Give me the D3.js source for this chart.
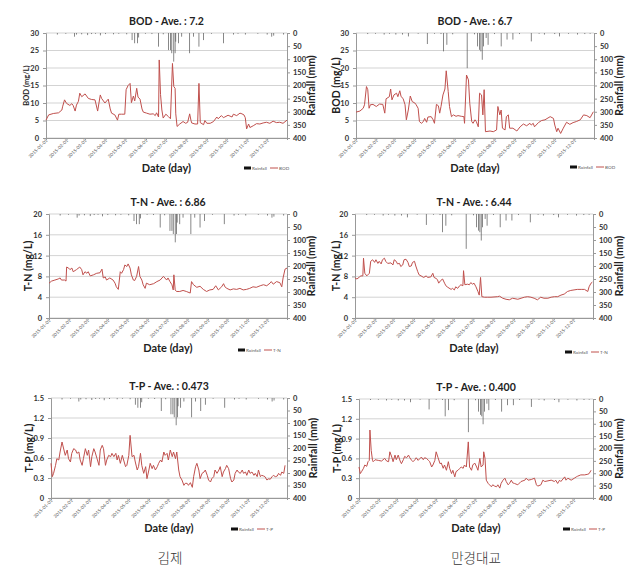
<!DOCTYPE html>
<html><head><meta charset="utf-8">
<script src="https://cdn.jsdelivr.net/npm/d3@7"></script>
<style>body{margin:0;background:#fff}svg{display:block}</style>
</head><body>
<svg id="c" width="638" height="572"></svg>
<script>
// ---- tick labels ----
const monthLabels = ["2015-01-01","2015-02-01","2015-03-01","2015-04-01","2015-05-01","2015-06-01","2015-07-01","2015-08-01","2015-09-01","2015-10-01","2015-11-01","2015-12-01"];
const monthDays = [0,31,59,90,120,151,181,212,243,273,304,334];
const rainTicks = [0,50,100,150,200,250,300,350,400];
const bodTicks = [0,5,10,15,20,25,30];
const tnTicks = [0,4,8,12,16,20];
const tpTicks = [0,0.3,0.6,0.9,1.2,1.5];
const stations = ["김제","만경대교"];

// ---- rainfall [dayOfYear, mm] ----
const rainKimje = [[17,6],[30,3],[43,14],[46,6],[54,5],[63,8],[69,4],[75,3],[82,9],[90,4],[102,5],[110,3],[122,5],[130,27],[134,39],[138,39],[140,17],[150,3],[160,4],[170,52],[177,5],[185,65],[188,65],[190,77],[193,109],[195,77],[196,33],[200,39],[205,14],[217,77],[223,14],[231,52],[238,27],[250,3],[268,39],[283,6],[290,3],[301,6],[320,3],[334,6],[341,14],[344,10],[359,6]];
const rainMangyeong = [[18,4],[30,3],[43,6],[51,3],[61,6],[71,6],[80,13],[95,3],[109,42],[120,3],[130,4],[134,70],[139,45],[148,5],[170,134],[181,5],[186,51],[189,64],[191,70],[193,102],[195,51],[199,19],[202,45],[212,4],[222,51],[231,25],[240,25],[250,4],[268,32],[280,3],[288,6],[304,4],[311,13],[325,3],[339,6],[350,4],[358,3]];

// ---- water quality [dayOfYear, value] ----
const bodKimje = [[0,5.1],[4,6.6],[11,7.0],[19,7.2],[24,8.0],[25,8.9],[28,10.9],[31,9.9],[36,9.3],[39,9.8],[41,9.3],[44,7.7],[46,9.4],[49,10.5],[51,12.8],[54,11.8],[59,12.6],[64,11.3],[69,11.0],[74,10.9],[78,7.7],[82,12.3],[84,11.3],[89,10.0],[94,11.1],[97,8.3],[99,7.1],[104,6.6],[108,5.1],[110,6.8],[114,6.8],[119,6.8],[121,13.8],[124,15.0],[127,15.6],[129,10.1],[132,12.0],[134,10.6],[137,14.2],[139,11.7],[142,11.1],[145,8.3],[147,7.4],[152,7.1],[157,6.8],[162,6.9],[165,6.4],[167,7.2],[170,6.0],[171,22.3],[173,12.4],[175,8.0],[177,5.7],[181,6.8],[185,6.1],[188,5.5],[191,21.3],[193,14.7],[195,14.2],[196,6.9],[198,3.3],[202,4.0],[207,4.7],[211,4.2],[214,4.5],[217,6.9],[219,5.0],[220,4.3],[225,4.0],[229,4.0],[231,15.6],[233,4.4],[238,3.8],[240,5.0],[243,4.2],[248,4.2],[253,4.7],[258,6.0],[260,5.5],[265,6.4],[268,5.8],[270,6.0],[275,6.5],[281,6.0],[283,6.8],[288,6.4],[293,7.1],[296,6.9],[299,6.6],[301,5.8],[303,2.6],[306,4.0],[308,3.0],[313,3.5],[318,4.1],[323,4.0],[328,4.3],[333,4.5],[338,4.2],[343,4.8],[348,4.4],[353,4.5],[358,4.2],[364,5.1]];
const bodMangyeong = [[0,7.4],[6,7.7],[11,8.5],[13,9.5],[16,14.7],[18,13.8],[20,8.5],[22,9.5],[26,9.6],[31,9.0],[36,9.7],[41,9.6],[44,7.1],[46,11.2],[51,11.8],[53,14.0],[55,10.9],[58,12.3],[62,12.8],[64,11.8],[67,13.5],[69,11.8],[72,11.3],[75,9.5],[77,5.2],[80,8.0],[83,12.0],[86,10.4],[90,10.0],[92,9.5],[95,8.5],[97,4.7],[100,4.2],[103,4.7],[105,5.6],[108,4.5],[110,6.0],[115,6.1],[118,5.2],[120,4.2],[123,9.6],[126,9.2],[128,7.1],[130,9.0],[133,12.3],[136,14.0],[138,19.2],[141,13.3],[143,9.0],[146,6.1],[149,6.6],[153,6.2],[156,6.4],[161,6.2],[165,6.1],[166,4.2],[169,18.0],[172,16.6],[174,9.9],[177,4.7],[179,4.2],[182,5.2],[184,4.7],[187,3.2],[189,12.8],[192,12.3],[194,6.6],[196,13.8],[198,1.8],[205,2.0],[210,1.8],[215,2.3],[217,9.0],[220,6.6],[222,8.0],[224,2.8],[228,2.3],[230,6.1],[233,6.6],[235,2.8],[240,2.8],[246,2.0],[251,3.2],[256,4.0],[261,3.5],[266,4.2],[268,3.7],[271,4.2],[273,3.2],[279,4.4],[284,5.0],[289,5.2],[297,6.1],[302,5.6],[304,3.7],[307,1.8],[309,2.8],[313,1.3],[317,2.8],[322,4.5],[327,3.9],[332,4.4],[337,4.7],[343,5.2],[348,6.6],[353,6.4],[358,5.8],[363,7.5]];
const tnKimje = [[0,6.7],[4,7.1],[9,7.3],[14,7.5],[17,7.7],[19,7.3],[24,7.3],[26,7.1],[27,9.8],[30,9.6],[32,9.3],[35,9.6],[37,8.9],[42,9.3],[47,9.8],[50,9.3],[52,8.3],[55,8.9],[58,8.6],[60,8.9],[63,8.1],[68,8.3],[73,8.6],[78,8.7],[81,9.4],[83,7.7],[86,7.9],[88,7.3],[93,7.7],[98,7.3],[101,6.7],[103,6.0],[106,5.5],[109,8.9],[111,8.6],[114,9.3],[116,10.2],[119,9.9],[121,10.4],[124,9.6],[126,8.3],[129,7.3],[131,7.2],[134,8.0],[137,9.9],[139,8.0],[142,7.3],[144,6.4],[147,5.7],[149,6.7],[154,6.4],[160,6.6],[165,7.0],[170,7.3],[175,8.0],[180,7.3],[182,7.7],[185,7.0],[188,6.4],[190,5.4],[191,8.3],[193,5.4],[195,5.1],[200,5.1],[205,5.3],[210,5.1],[216,4.8],[218,7.0],[221,6.4],[226,5.9],[231,6.1],[236,5.5],[241,5.1],[246,5.4],[251,5.5],[255,6.2],[259,5.4],[264,6.0],[267,6.6],[269,6.0],[272,5.7],[277,5.4],[282,5.6],[287,5.5],[292,5.7],[297,5.4],[302,5.5],[307,5.7],[312,6.0],[317,5.9],[323,6.2],[328,6.4],[333,6.2],[338,6.7],[340,7.0],[343,6.5],[348,7.0],[353,6.8],[356,6.0],[358,7.7],[361,9.4],[364,9.6]];
const tnMangyeong = [[0,7.7],[3,7.5],[7,7.9],[9,8.1],[12,8.1],[13,11.5],[15,8.6],[18,8.1],[22,8.6],[24,10.9],[27,11.2],[30,10.7],[32,11.2],[35,10.5],[37,10.9],[40,10.4],[42,11.2],[45,11.5],[47,10.9],[50,10.5],[55,10.6],[58,10.2],[60,11.2],[63,10.9],[65,10.4],[68,10.5],[70,9.9],[73,10.2],[75,11.2],[78,11.3],[81,10.7],[83,9.9],[86,10.0],[88,10.7],[91,10.9],[93,10.0],[96,8.9],[98,8.3],[101,8.1],[105,7.8],[109,8.1],[111,7.8],[116,7.9],[119,8.6],[121,7.8],[124,7.6],[126,7.4],[128,6.7],[131,7.2],[134,7.5],[137,6.7],[139,6.2],[142,5.9],[147,5.5],[149,5.7],[152,5.4],[154,6.0],[157,5.7],[160,6.2],[162,6.4],[165,6.2],[166,9.1],[168,6.4],[172,6.5],[175,6.4],[177,6.8],[180,6.5],[182,6.7],[185,6.0],[188,5.1],[190,4.4],[192,7.8],[194,4.1],[198,4.0],[203,4.0],[208,4.0],[218,4.1],[221,4.2],[226,3.8],[231,3.6],[236,3.5],[241,3.8],[249,3.6],[254,3.8],[259,4.0],[264,4.1],[269,4.0],[274,3.8],[279,3.5],[284,4.0],[289,3.8],[295,3.8],[300,4.0],[305,4.1],[310,4.1],[315,4.4],[320,4.6],[325,5.1],[330,5.3],[335,5.4],[340,5.5],[346,5.5],[351,5.5],[356,5.1],[358,6.0],[361,6.7],[363,6.9]];
const tpKimje = [[0,0.52],[2,0.32],[4,0.37],[7,0.49],[9,0.59],[12,0.57],[14,0.69],[17,0.84],[20,0.72],[22,0.64],[25,0.72],[27,0.59],[30,0.54],[32,0.67],[35,0.74],[38,0.72],[40,0.67],[43,0.69],[45,0.57],[48,0.49],[50,0.59],[53,0.74],[56,0.64],[58,0.72],[61,0.47],[63,0.62],[66,0.74],[68,0.69],[71,0.59],[74,0.49],[76,0.72],[79,0.79],[81,0.74],[84,0.49],[86,0.57],[89,0.64],[92,0.62],[94,0.67],[97,0.62],[100,0.67],[102,0.57],[104,0.64],[107,0.52],[110,0.64],[112,0.57],[115,0.47],[117,0.49],[120,0.64],[122,0.94],[125,0.62],[128,0.64],[130,0.54],[133,0.42],[135,0.47],[138,0.67],[140,0.49],[143,0.37],[146,0.47],[148,0.29],[151,0.42],[153,0.52],[156,0.44],[158,0.49],[161,0.42],[164,0.47],[166,0.52],[169,0.57],[171,0.54],[174,0.69],[176,0.64],[179,0.67],[181,0.57],[184,0.72],[187,0.62],[189,0.69],[192,0.59],[194,0.69],[197,0.42],[199,0.32],[202,0.27],[205,0.19],[207,0.22],[210,0.22],[212,0.19],[215,0.23],[218,0.16],[220,0.32],[223,0.47],[225,0.52],[228,0.42],[230,0.29],[233,0.37],[236,0.39],[238,0.42],[241,0.34],[243,0.27],[246,0.24],[248,0.29],[251,0.32],[253,0.42],[256,0.37],[259,0.42],[261,0.47],[264,0.32],[266,0.39],[269,0.44],[271,0.49],[274,0.44],[277,0.29],[279,0.24],[282,0.27],[284,0.37],[287,0.42],[289,0.39],[292,0.37],[295,0.42],[297,0.37],[300,0.39],[302,0.34],[305,0.42],[307,0.37],[310,0.39],[313,0.34],[315,0.37],[318,0.32],[320,0.42],[323,0.32],[325,0.34],[328,0.33],[330,0.32],[333,0.27],[336,0.29],[338,0.28],[341,0.32],[343,0.34],[346,0.32],[349,0.33],[351,0.37],[354,0.34],[356,0.39],[359,0.37],[361,0.49]];
const tpMangyeong = [[0,0.47],[2,0.37],[4,0.40],[7,0.45],[9,0.50],[12,0.48],[14,0.55],[16,0.57],[17,1.03],[19,0.72],[21,0.57],[22,0.55],[25,0.58],[30,0.57],[35,0.56],[40,0.60],[43,0.56],[46,0.55],[48,0.70],[51,0.62],[53,0.55],[56,0.65],[58,0.58],[61,0.65],[64,0.56],[66,0.52],[69,0.58],[71,0.63],[74,0.61],[77,0.65],[79,0.61],[82,0.57],[84,0.55],[87,0.58],[89,0.61],[92,0.57],[95,0.60],[97,0.62],[100,0.58],[102,0.61],[105,0.60],[108,0.57],[110,0.55],[113,0.47],[115,0.50],[118,0.57],[120,0.70],[123,0.61],[126,0.52],[128,0.53],[131,0.45],[133,0.50],[136,0.42],[139,0.55],[141,0.45],[144,0.37],[146,0.42],[149,0.32],[151,0.40],[154,0.42],[157,0.45],[159,0.47],[162,0.45],[164,0.50],[167,0.47],[170,0.85],[172,0.47],[175,0.42],[177,0.50],[180,0.53],[183,0.47],[185,0.42],[188,0.60],[190,0.47],[193,0.50],[194,0.70],[196,0.60],[198,0.27],[201,0.22],[203,0.20],[206,0.17],[208,0.20],[211,0.18],[214,0.17],[216,0.20],[219,0.15],[221,0.22],[224,0.27],[227,0.30],[229,0.25],[232,0.20],[234,0.22],[237,0.27],[239,0.23],[242,0.22],[247,0.20],[252,0.25],[258,0.27],[260,0.30],[263,0.27],[268,0.28],[273,0.30],[276,0.20],[278,0.18],[283,0.20],[286,0.27],[289,0.25],[294,0.26],[299,0.27],[304,0.25],[306,0.27],[309,0.22],[312,0.27],[314,0.25],[320,0.32],[322,0.27],[325,0.30],[330,0.27],[335,0.30],[338,0.32],[340,0.33],[345,0.35],[351,0.35],[356,0.36],[358,0.37],[361,0.42]];

// ---- layout (positions/styles kept separate from data) ----
const panels = [
  {data:bodKimje, rain:rainKimje, ticks:bodTicks, max:30, title:"BOD - Ave. : 7.2", name:"BOD", yLabel:"BOD (mg/L)", yLabelSize:7.5,
   l:46, r:287, t:33, b:138, yLabelX:26, rLabelX:311, dateY:172, legX:244, legY:168},
  {data:bodMangyeong, rain:rainMangyeong, ticks:bodTicks, max:30, title:"BOD - Ave. : 6.7", name:"BOD", yLabel:"BOD (mg/L)", yLabelSize:10.5,
   l:356, r:594, t:33, b:138, yLabelX:336, rLabelX:619, dateY:172, legX:570, legY:167},
  {data:tnKimje, rain:rainKimje, ticks:tnTicks, max:20, title:"T-N - Ave. : 6.86", name:"T-N", yLabel:"T-N (mg/L)", yLabelSize:10.5,
   l:49, r:287, t:214, b:318, yLabelX:28, rLabelX:311, dateY:352, legX:238, legY:350},
  {data:tnMangyeong, rain:rainMangyeong, ticks:tnTicks, max:20, title:"T-N - Ave. : 6.44", name:"T-N", yLabel:"T-N (mg/L)", yLabelSize:10.5,
   l:355, r:593, t:214, b:318, yLabelX:336, rLabelX:619, dateY:352, legX:565, legY:352},
  {data:tpKimje, rain:rainKimje, ticks:tpTicks, max:1.5, title:"T-P - Ave. : 0.473", name:"T-P", yLabel:"T-P (mg/L)", yLabelSize:10.5,
   l:51, r:287, t:398, b:498, yLabelX:29, rLabelX:313, dateY:532, legX:231, legY:529},
  {data:tpMangyeong, rain:rainMangyeong, ticks:tpTicks, max:1.5, title:"T-P - Ave. : 0.400", name:"T-P", yLabel:"T-P (mg/L)", yLabelSize:10.5,
   l:359, r:593, t:399, b:498, yLabelX:337, rLabelX:619, dateY:532, legX:563, legY:529}
];

const svg = d3.select("#c");
const FONT = "Lato, 'Open Sans', sans-serif";
const RED = "#c0504d";

panels.forEach(p => {
  const g = svg.append("g");
  const x = d3.scaleLinear().domain([0,364]).range([p.l,p.r]);
  const y = d3.scaleLinear().domain([0,p.max]).range([p.b,p.t]);
  const yr = d3.scaleLinear().domain([0,400]).range([p.t,p.b]);

  // gridlines
  g.append("g").selectAll("line").data(p.ticks).join("line")
    .attr("x1",p.l).attr("x2",p.r).attr("y1",d=>y(d)).attr("y2",d=>y(d))
    .attr("stroke","#c8c8c8").attr("stroke-width",0.8);

  // left axis
  const la = g.append("g").attr("transform",`translate(${p.l},0)`)
    .call(d3.axisLeft(y).tickValues(p.ticks).tickSize(3).tickPadding(4)
      .tickFormat(d => p.max===1.5 ? (d===0?"0":d3.format(".1f")(d)) : d));
  la.select(".domain").attr("stroke","#999");
  la.selectAll(".tick line").attr("stroke","#999");
  la.selectAll("text").attr("font-family",FONT).attr("font-weight","bold").attr("font-size",7.5).attr("fill","#333");

  // right axis (rainfall)
  const ra = g.append("g").attr("transform",`translate(${p.r},0)`)
    .call(d3.axisRight(yr).tickValues(rainTicks).tickSize(3).tickPadding(3));
  ra.select(".domain").attr("stroke","#999");
  ra.selectAll(".tick line").attr("stroke","#999");
  ra.selectAll("text").attr("font-family",FONT).attr("font-weight","bold").attr("font-size",7.5).attr("fill","#333");

  // bottom axis
  const ba = g.append("g").attr("transform",`translate(0,${p.b})`)
    .call(d3.axisBottom(x).tickValues(monthDays).tickSize(2).tickFormat((d,i)=>monthLabels[i]));
  ba.select(".domain").attr("stroke","#999");
  ba.selectAll(".tick line").attr("stroke","#999");
  ba.selectAll("text").attr("font-family",FONT).attr("font-size",4.6).attr("fill","#555")
    .attr("text-anchor","end").attr("dy",0).attr("y",3).attr("x",-1)
    .attr("transform","rotate(-45)");

  // rainfall bars hanging from top
  g.append("g").selectAll("rect").data(p.rain).join("rect")
    .attr("x",d=>x(d[0])-0.35).attr("width",0.7)
    .attr("y",p.t).attr("height",d=>yr(d[1])-p.t)
    .attr("fill","#555");

  // water quality line
  g.append("path").datum(p.data)
    .attr("d", d3.line().x(d=>x(d[0])).y(d=>y(d[1])))
    .attr("fill","none").attr("stroke",RED).attr("stroke-width",1);

  // title
  g.append("text").attr("x",(p.l+p.r)/2).attr("y",p.t-8).attr("text-anchor","middle")
    .attr("font-family",FONT).attr("font-weight","bold").attr("font-size",10.5).attr("fill","#222").text(p.title);

  // y labels
  g.append("text").attr("transform",`translate(${p.yLabelX},${(p.t+p.b)/2}) rotate(-90)`)
    .attr("text-anchor","middle").attr("dy","0.35em")
    .attr("font-family",FONT).attr("font-weight","bold").attr("font-size",p.yLabelSize).attr("fill","#222").text(p.yLabel);
  g.append("text").attr("transform",`translate(${p.rLabelX},${(p.t+p.b)/2}) rotate(-90)`)
    .attr("text-anchor","middle").attr("dy","0.35em")
    .attr("font-family",FONT).attr("font-weight","bold").attr("font-size",10.5).attr("fill","#222").text("Rainfall (mm)");

  // x label
  g.append("text").attr("x",(p.l+p.r)/2).attr("y",p.dateY).attr("text-anchor","middle")
    .attr("font-family",FONT).attr("font-weight","bold").attr("font-size",11).attr("fill","#222").text("Date (day)");

  // legend
  const lg = g.append("g").attr("transform",`translate(${p.legX},${p.legY})`);
  lg.append("rect").attr("x",0).attr("y",-1.5).attr("width",7).attr("height",3).attr("fill","#111");
  lg.append("text").attr("x",8).attr("y",1.6).attr("font-family",FONT).attr("font-size",4.6).attr("fill","#555").text("Rainfall");
  lg.append("line").attr("x1",26).attr("x2",34).attr("y1",0).attr("y2",0).attr("stroke",RED).attr("stroke-width",1);
  lg.append("text").attr("x",35).attr("y",1.6).attr("font-family",FONT).attr("font-size",4.6).attr("fill","#555").text(p.name);
});

// station captions
svg.selectAll("text.station").data(stations).join("text").attr("class","station")
  .attr("x",(d,i)=> i===0 ? 170 : 476).attr("y",563).attr("text-anchor","middle")
  .attr("font-family","'Noto Sans CJK KR', sans-serif").attr("font-weight",300)
  .attr("font-size",13.5).attr("fill","#333").text(d=>d);
</script>
</body></html>
